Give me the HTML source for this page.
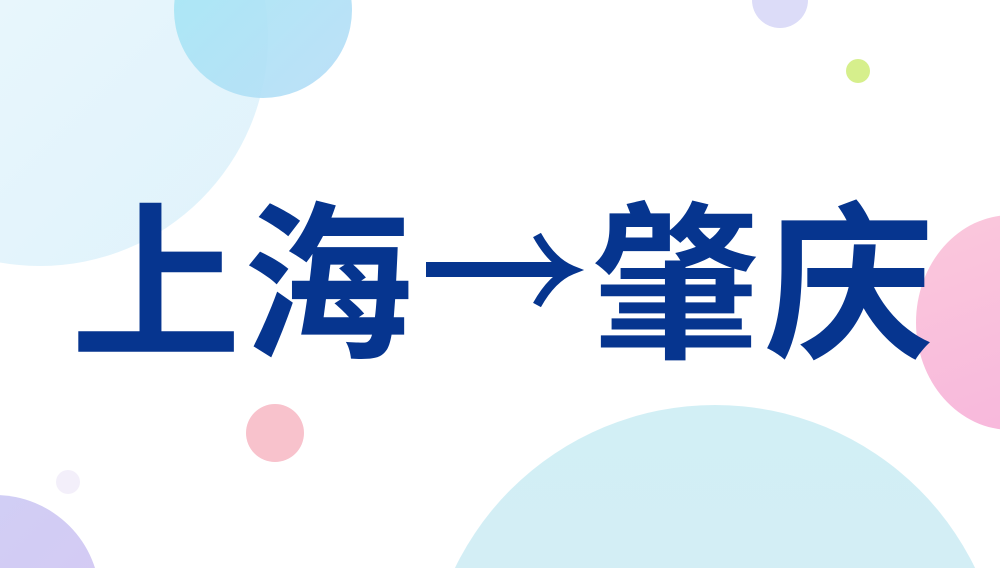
<!DOCTYPE html>
<html><head><meta charset="utf-8"><style>
html,body{margin:0;padding:0;width:1000px;height:568px;overflow:hidden;background:#fff}
#w{position:relative;width:1000px;height:568px;overflow:hidden}
.c{position:absolute;border-radius:50%}
.t{position:absolute;top:202px;font-family:"Liberation Sans","Noto Sans CJK SC",sans-serif;font-weight:bold;font-size:170px;line-height:170px;color:#06358f;white-space:nowrap}
</style></head><body><div id="w">
<div class="c" style="left:-188px;top:-190px;width:456px;height:456px;background:linear-gradient(135deg,#eef9fd,#dff2fb)"></div>
<div class="c" style="left:174px;top:-78px;width:178px;height:176px;background:linear-gradient(135deg,#a2e8f4,#b6dcf7);opacity:.9"></div>
<div class="c" style="left:752px;top:-28px;width:56px;height:56px;background:#dcdcf8"></div>
<div class="c" style="left:846px;top:59px;width:24px;height:24px;background:#d6ef8c"></div>
<div class="c" style="left:916px;top:215px;width:190px;height:215px;background:linear-gradient(160deg,#fbc8dc,#f7b6dc)"></div>
<div class="c" style="left:246px;top:404px;width:58px;height:58px;background:#f8c2cc"></div>
<div class="c" style="left:56px;top:470px;width:24px;height:24px;background:#f3effa"></div>
<div class="c" style="left:-110px;top:495px;width:210px;height:210px;background:linear-gradient(135deg,#cfd0f6,#d6c8f2)"></div>
<div class="c" style="left:426px;top:405px;width:578px;height:578px;background:linear-gradient(180deg,#d2eff5,#d6ecf6)"></div>
<div class="t" style="left:71px">上</div>
<div class="t" style="left:243px">海</div>
<div class="t" style="left:591px">肇</div>
<div class="t" style="left:764px">庆</div>
<svg style="position:absolute;left:0;top:0" width="1000" height="568">
<rect x="426" y="262" width="140" height="15" fill="#06358f"/>
<path d="M537 235 Q552 262 572 270 Q552 278 537 305" fill="none" stroke="#06358f" stroke-width="9"/>
</svg>
</div></body></html>
